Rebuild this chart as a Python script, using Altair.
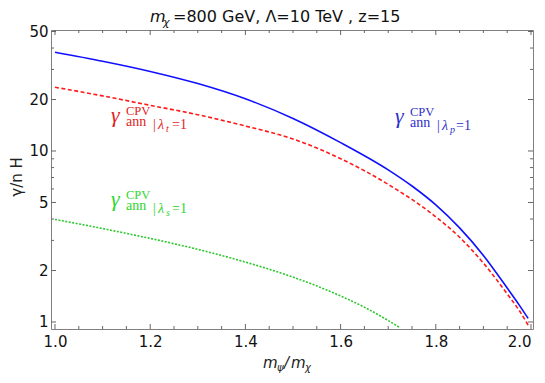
import altair as alt
import pandas as pd

# ---- data ----
x_blue = [1.0, 1.1, 1.2, 1.3, 1.4, 1.5, 1.6, 1.7, 1.75, 1.8, 1.85, 1.9, 1.95, 1.975, 1.994]
y_blue = [37.8, 33.5, 29.2, 24.8, 20.2, 15.5, 11.2, 7.76, 6.24, 4.84, 3.55, 2.45, 1.58, 1.26, 1.05]

x_red = [1.0, 1.1, 1.2, 1.3, 1.4, 1.5, 1.6, 1.7, 1.8, 1.85, 1.9, 1.95, 1.975, 1.994]
y_red = [23.6, 21.0, 18.5, 16.3, 14.0, 11.75, 9.02, 6.38, 4.12, 3.13, 2.21, 1.46, 1.17, 0.96]

x_green = [1.0, 1.1, 1.2, 1.3, 1.4, 1.5, 1.6, 1.65, 1.7, 1.725]
y_green = [3.98, 3.52, 3.08, 2.66, 2.24, 1.83, 1.42, 1.22, 1.02, 0.925]

x_major = [1.0, 1.2, 1.4, 1.6, 1.8, 2.0]
x_minor = [1.05, 1.1, 1.15, 1.25, 1.3, 1.35, 1.45, 1.5, 1.55, 1.65, 1.7, 1.75, 1.85, 1.9, 1.95]
y_major = [1, 2, 5, 10, 20, 50]
y_minor = [3, 4, 6, 7, 8, 9, 30, 40]

W, H = 482, 299
X0, Y0 = 51, 30  # page position of plot origin

xscale = alt.Scale(domain=[0.9916, 2.0042], nice=False, zero=False)
yscale = alt.Scale(type="log", domain=[0.91, 51], nice=False)

SANS = "DejaVu Sans"
SERIF = "Liberation Serif"

df_b = pd.DataFrame({"x": x_blue, "y": y_blue})
df_r = pd.DataFrame({"x": x_red, "y": y_red})
df_g = pd.DataFrame({"x": x_green, "y": y_green})

xax = alt.Axis(values=x_major, format=".1f", ticks=False, domain=False, grid=False,
               labelFontSize=15, labelFont=SANS, labelColor="#111", labelPadding=5,
               labelFlush=3, title=None)
yax = alt.Axis(values=y_major, format="~g", ticks=False, domain=False, grid=False,
               labelFontSize=15, labelFont=SANS, labelColor="#111", labelPadding=3, title=None)

blue = alt.Chart(df_b).mark_line(color="#1010ff", strokeWidth=1.6, clip=True, interpolate="monotone").encode(
    x=alt.X("x:Q", scale=xscale, axis=xax), y=alt.Y("y:Q", scale=yscale, axis=yax))
red = alt.Chart(df_r).mark_line(color="#ff1a1a", strokeWidth=1.6, strokeDash=[4, 2.5], clip=True,
                                interpolate="monotone").encode(
    x=alt.X("x:Q", scale=xscale), y=alt.Y("y:Q", scale=yscale))
green = alt.Chart(df_g).mark_line(color="#2cc82c", strokeWidth=1.6, strokeDash=[2, 1.5], clip=True,
                                  interpolate="monotone").encode(
    x=alt.X("x:Q", scale=xscale), y=alt.Y("y:Q", scale=yscale))

TC = "#666666"
def xticks(vals, ln):
    d = pd.DataFrame({"x": vals})
    b = alt.Chart(d).mark_rule(color=TC, strokeWidth=1).encode(
        x=alt.X("x:Q", scale=xscale), y=alt.value(H), y2=alt.value(H - ln))
    t = alt.Chart(d).mark_rule(color=TC, strokeWidth=1).encode(
        x=alt.X("x:Q", scale=xscale), y=alt.value(0), y2=alt.value(ln))
    return [b, t]

def yticks(vals, ln):
    d = pd.DataFrame({"y": vals})
    l = alt.Chart(d).mark_rule(color=TC, strokeWidth=1).encode(
        y=alt.Y("y:Q", scale=yscale), x=alt.value(0), x2=alt.value(ln))
    r = alt.Chart(d).mark_rule(color=TC, strokeWidth=1).encode(
        y=alt.Y("y:Q", scale=yscale), x=alt.value(W), x2=alt.value(W - ln))
    return [l, r]

tick_layers = xticks(x_major, 5) + xticks(x_minor, 3) + yticks(y_major, 5) + yticks(y_minor, 3)

texts = []
def txt(s, px, py, size, color, font=SANS, style="normal", angle=0, align="left", baseline="alphabetic"):
    d = pd.DataFrame({"t": [s]})
    kw = dict(font=font, fontSize=size, fontStyle=style, color=color, align=align, baseline=baseline)
    if angle:
        kw["angle"] = angle
    texts.append(alt.Chart(d).mark_text(**kw).encode(
        text="t:N", x=alt.value(px - X0), y=alt.value(py - Y0)))

# title
txt("m", 150, 22, 16, "#111", style="italic")
txt("χ", 163, 26, 11, "#111", style="italic")
txt("=800 GeV, Λ=10 TeV , z=15", 173, 22, 16, "#111")

# x axis title
txt("m", 263, 368, 15, "#222", style="italic")
txt("ψ", 277, 371, 10, "#222", style="italic")
txt("/", 284, 368, 15, "#222", style="italic")
txt("m", 291, 368, 15, "#222", style="italic")
txt("χ", 305, 371, 10, "#222", style="italic")

# y axis title
txt("γ/n H", 17, 177, 15, "#222", angle=270, align="center", baseline="middle")

def label(dx, dy, sub, color):
    txt("γ", 111 + dx, 122 + dy, 22, color, font=SERIF, style="italic")
    txt("CPV", 126 + dx, 115 + dy, 12.5, color, font=SERIF)
    txt("ann", 126 + dx, 125.5 + dy, 14, color, font=SERIF)
    txt("|", 153 + dx, 129 + dy, 14, color, font=SERIF)
    txt("λ", 158 + dx, 129 + dy, 14, color, font=SERIF, style="italic")
    txt(sub, 166 + dx, 132 + dy, 10, color, font=SERIF, style="italic")
    txt("=1", 172 + dx, 129 + dy, 14, color, font=SERIF)

label(0, 0, "t", "#e02424")
label(284, 1, "p", "#3030cc")
label(0, 84, "s", "#2fd62f")

chart = alt.layer(blue, red, green, *tick_layers, *texts).properties(
    width=W, height=H,
    autosize=alt.AutoSizeParams(type="none"),
    padding={"left": X0 - 8, "top": Y0 - 8, "right": 545 - 16 - (X0 - 8) - W, "bottom": 383 - 16 - (Y0 - 8) - H},
).configure_view(stroke="#808080", strokeWidth=1)

chart.save("out.html", embed_options={"renderer": "svg", "actions": False})
